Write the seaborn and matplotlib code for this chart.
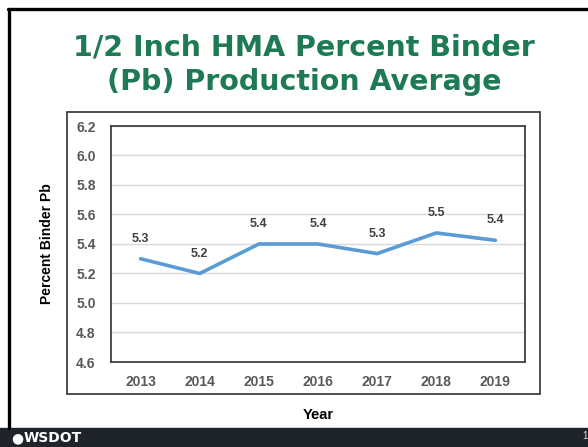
import matplotlib
matplotlib.use("Agg")
import matplotlib.pyplot as plt
import seaborn as sns
import pandas as pd
from matplotlib.patches import Rectangle

years = ["2013", "2014", "2015", "2016", "2017", "2018", "2019"]
binder = [5.30, 5.20, 5.40, 5.40, 5.335, 5.475, 5.425]
labels = ["5.3", "5.2", "5.4", "5.4", "5.3", "5.5", "5.4"]
yticks = [4.6, 4.8, 5.0, 5.2, 5.4, 5.6, 5.8, 6.0, 6.2]

df = pd.DataFrame({"Year": years, "Pb": binder})

sns.set_style("white")
plt.rcParams['font.family'] = ['Liberation Sans', 'DejaVu Sans']

W, H = 588, 447
fig = plt.figure(figsize=(W / 100, H / 100), dpi=100)
fig.patch.set_facecolor("white")

def fx(x):
    return x / W

def fy(y):
    return 1 - y / H

# slide border (top and left)
fig.add_artist(plt.Line2D([fx(8.5), fx(8.5)], [fy(8.5), fy(428)], color="black", lw=2.4))
fig.add_artist(plt.Line2D([fx(7.5), 1.0], [fy(8.5), fy(8.5)], color="black", lw=2.4))

# footer band
fig.add_artist(Rectangle((0, 0), 1, fy(428), transform=fig.transFigure, color="#1f242b", zorder=0))
fig.text(fx(11), fy(438), "\u25CF", color="white", fontsize=10, va="center", ha="left",
         family="DejaVu Sans")
fig.text(fx(24), fy(438), "WSDOT", color="white", fontsize=10, fontweight="heavy", va="center",
         ha="left", family="DejaVu Sans")
fig.text(fx(585), fy(436), "1", color="#dddddd", fontsize=7, va="center", ha="center")

# title
for yy, line in [(47, "1/2 Inch HMA Percent Binder"), (82, "(Pb) Production Average")]:
    fig.text(fx(304), fy(yy), line, color="#1e7a55", fontsize=20.5, fontweight="heavy",
             ha="center", va="center", family="DejaVu Sans")

# chart outer box
fig.add_artist(Rectangle((fx(67), fy(394)), fx(540) - fx(67), fy(112) - fy(394),
                         transform=fig.transFigure, fill=False, edgecolor="#404040", lw=1.3))

ax = fig.add_axes([fx(111), fy(362), fx(525) - fx(111), fy(126) - fy(362)])
sns.lineplot(data=df, x="Year", y="Pb", ax=ax, color="#5b9bd5", lw=2.6, sort=False)
ax.set_xlim(-0.5, len(years) - 0.5)
ax.set_ylim(4.6, 6.2)
ax.set_yticks(yticks)
ax.set_yticklabels([f"{v:.1f}" for v in yticks])
ax.grid(axis="y", color="#d9d9d9", lw=1)
ax.set_axisbelow(True)
for s in ax.spines.values():
    s.set_color("#404040")
    s.set_linewidth(1.3)
ax.tick_params(axis="both", length=0, labelsize=10, colors="#595959")
ax.tick_params(axis="y", pad=11)
ax.tick_params(axis="x", pad=9)
for t in ax.get_xticklabels() + ax.get_yticklabels():
    t.set_fontweight("bold")
ax.set_xlabel("Year", fontsize=10.5, fontweight="bold", color="black", labelpad=14)
ax.set_ylabel("Percent Binder Pb", fontsize=10, fontweight="bold", color="black", labelpad=16)

for i, (v, lab) in enumerate(zip(binder, labels)):
    ax.annotate(lab, (i, v), xytext=(0, 10), textcoords="offset points", ha="center",
                va="bottom", fontsize=9, color="#404040", fontweight="bold")

fig.savefig("out.png", dpi=100)
